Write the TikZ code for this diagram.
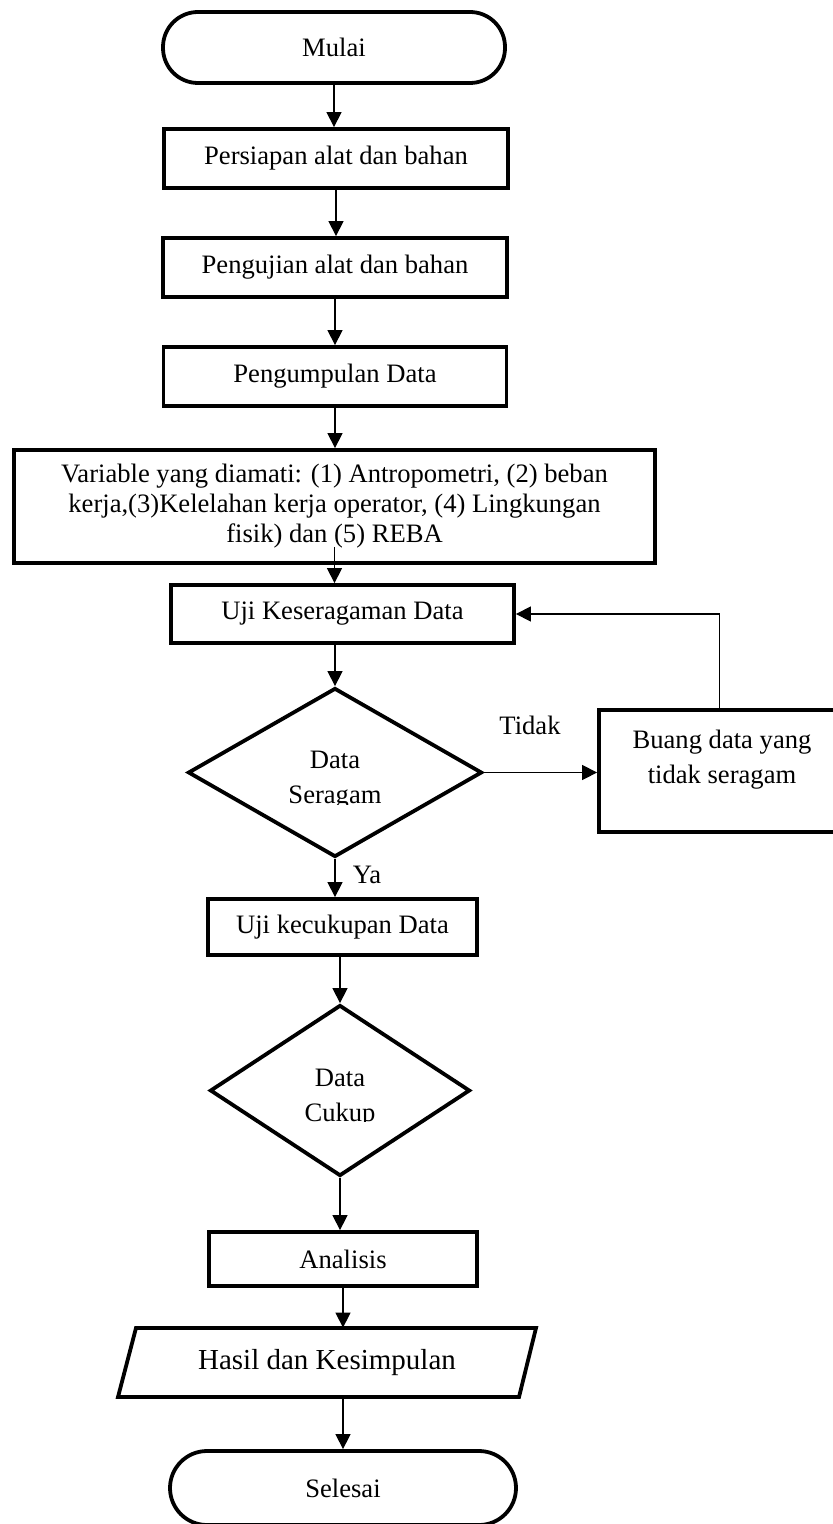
\documentclass[tikz,border=0pt]{standalone}
\usepackage{fontspec}
\setmainfont{Liberation Serif}
\usetikzlibrary{arrows.meta,shapes.geometric}
\begin{document}
\begin{tikzpicture}[x=0.5pt,y=-0.5pt,
  txt/.style={font=\fontsize{13.3}{15}\selectfont},
  box/.style={draw, line width=1.9pt, inner sep=0pt, align=center, txt},
  term/.style={box, rounded corners=17.5pt},
  dia/.style={diamond, draw, line width=1.9pt, inner sep=0pt},
  arr/.style={line width=0.65pt, -{Triangle[length=7.5pt,width=7.5pt]}},
  lbl/.style={inner sep=0pt, align=center, font=\fontsize{13.3}{17.5}\selectfont},
]
\useasboundingbox (0,0) rectangle (833,1524);
% nodes
\node[term, minimum width=171pt, minimum height=35.5pt] (mulai) at (334,47.5) {Mulai};
\node[box, minimum width=172pt, minimum height=29.5pt] (persiapan) at (336,158.5) {Persiapan alat dan bahan};
\node[box, minimum width=172pt, minimum height=29.5pt] (pengujian) at (335,267.5) {Pengujian alat dan bahan};
\node[box, minimum width=171.5pt, minimum height=29.5pt] (pengumpulan) at (335,376.5) {Pengumpulan Data};
\node[box, minimum width=320.5pt, minimum height=56.5pt] (variable) at (334.5,506.5) {Variable yang diamati: (1) Antropometri, (2) beban\\ kerja,(3)Kelelahan kerja operator, (4) Lingkungan\\ fisik) dan (5) REBA};
\node[box, minimum width=171.5pt, minimum height=29pt] (kes) at (342.5,614) {Uji Keseragaman Data};
\node[dia, minimum width=147pt, minimum height=84.5pt] (d1) at (335,772.5) {};
\begin{scope}
  \clip (0,700) rectangle (833,804);
  \node[lbl] (d1txt) at (335,780.5) {Data\\ Seragam};
\end{scope}
\node[box, minimum width=120.5pt, minimum height=61pt] (buang) at (719.5,771) {};
\node[lbl] (buangtxt) at (722,759.5) {Buang data yang\\ tidak seragam};
\node[lbl] (tidak) at (530,725) {Tidak};
\node[lbl] (ya) at (367,875) {Ya};
\node[box, minimum width=134.5pt, minimum height=28pt] (uji2) at (342.5,927) {Uji kecukupan Data};
\node[dia, minimum width=130pt, minimum height=85.5pt] (d2) at (340,1090.5) {};
\begin{scope}
  \clip (0,1030) rectangle (833,1121.5);
  \node[lbl] (d2txt) at (340,1098.5) {Data\\ Cukup};
\end{scope}
\node[box, minimum width=134pt, minimum height=27pt] (analisis) at (343,1259) {Analisis};
\draw[line width=1.9pt] (136,1328) -- (536,1328) -- (519,1397) -- (118,1397) -- cycle;
\node[inner sep=0pt, minimum height=34.5pt, font=\fontsize{14.5}{17}\selectfont] (hasil) at (327,1362.5) {Hasil dan Kesimpulan};
\node[term, rounded corners=18.5pt, minimum width=173pt, minimum height=37pt] (selesai) at (343,1488) {Selesai};
% connectors
\draw[arr] (mulai.south) -- (mulai.south |- persiapan.north);
\draw[arr] (persiapan.south) -- (persiapan.south |- pengujian.north);
\draw[arr] (pengujian.south) -- (pengujian.south |- pengumpulan.north);
\draw[arr] (pengumpulan.south) -- (pengumpulan.south |- variable.north);
\draw[arr] ([yshift=9pt]variable.south) -- (variable.south |- kes.north);
\draw[arr] (d1.north |- kes.south) -- (d1.north);
\draw[arr] (d1.east) -- (d1.east -| buang.west);
\draw[arr] (buang.north) |- (kes.east);
\draw[arr] (d1.south) -- (d1.south |- uji2.north);
\draw[arr] (d2.north |- uji2.south) -- (d2.north);
\draw[arr] (d2.south) -- (d2.south |- analisis.north);
\draw[arr] (analisis.south) -- (analisis.south |- hasil.north);
\draw[arr] (selesai.north |- hasil.south) -- (selesai.north);
\end{tikzpicture}
\end{document}
